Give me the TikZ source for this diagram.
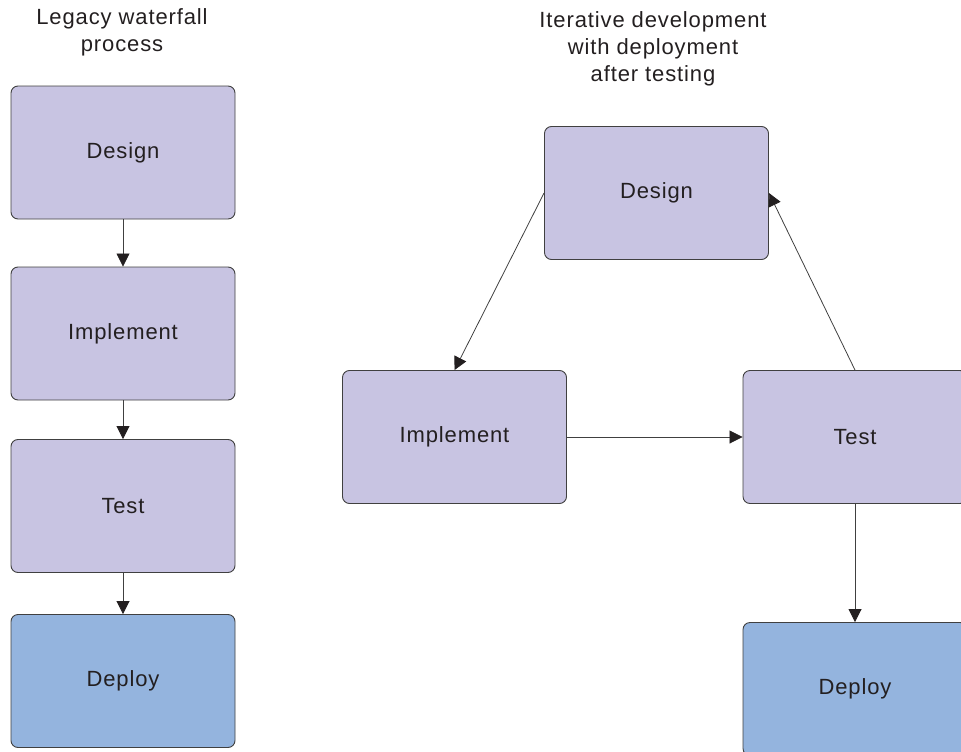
\documentclass[tikz,border=0pt]{standalone}
\usepackage{fontspec}
\setmainfont{Liberation Sans}[LetterSpace=4]
\usetikzlibrary{arrows.meta}
\definecolor{phase}{HTML}{C8C4E2}
\definecolor{ausgabe}{HTML}{94B4DE}
\definecolor{rand}{HTML}{404040}
\definecolor{schrift}{HTML}{231F20}
\begin{document}
\begin{tikzpicture}[
      x=1pt, y=-1pt,
      font=\fontsize{22}{27}\selectfont,
      schritt/.style={draw=rand, line width=0.9pt, fill=phase, rounded corners=7pt,
        minimum width=224pt, minimum height=133pt, inner sep=0pt, text=schrift},
      liefer/.style={schritt, fill=ausgabe},
      pfeil/.style={-{Triangle[length=13pt, width=13pt, fill=schrift, color=schrift]}, draw=rand, line width=0.8pt},
      titel/.style={align=center, text=schrift}
    ]
      \useasboundingbox (0,0) rectangle (961,752);
      % Wasserfall links
      \node[titel] (titelL) at (122,32) {Legacy waterfall\\process};
      \node[schritt] (entwurfL) at (123,152.5) {Design};
      \node[schritt] (umsetzL) at (123,333.5) {Implement};
      \node[schritt] (testL) at (123,506) {Test};
      \node[liefer] (auslL) at (123,681) {Deploy};
      \draw[pfeil] (entwurfL) -- (umsetzL);
      \draw[pfeil] (umsetzL) -- (testL);
      \draw[pfeil] (testL) -- (auslL);
      % Iterativ rechts
      \node[titel] (titelR) at (653,49) {Iterative development\\with deployment\\after testing};
      \node[schritt] (entwurfR) at (656.5,193) {Design};
      \node[schritt] (umsetzR) at (454.5,437) {Implement};
      \node[schritt] (testR) at (855,437) {Test};
      \node[liefer] (auslR) at (855,689) {Deploy};
      \draw[pfeil] (entwurfR.west) -- (umsetzR.north);
      \draw[pfeil] (umsetzR) -- (testR);
      \draw[pfeil] (testR.north) -- (entwurfR.east);
      \draw[pfeil] (testR) -- (auslR);
    \end{tikzpicture}
\end{document}
